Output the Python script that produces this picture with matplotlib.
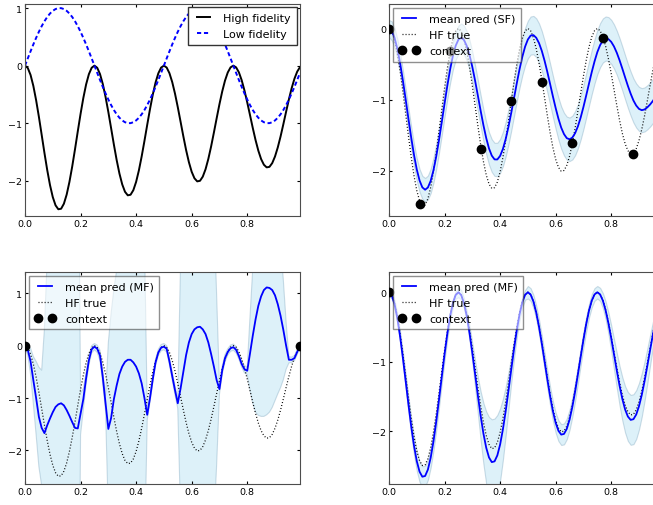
import numpy as np
import matplotlib
matplotlib.use("Agg")
import matplotlib.pyplot as plt
from matplotlib.ticker import FormatStrFormatter, MultipleLocator

# ---------------- data ----------------
# common sampling grid 0.00 ... 0.99
x_grid = np.round(np.arange(100) * 0.01, 2)

hf_true = [0, -0.041, -0.161, -0.351, -0.599, -0.888, -1.200, -1.515, -1.812, -2.073,
           -2.282, -2.425, -2.493, -2.484, -2.397, -2.238, -2.017, -1.750, -1.452, -1.141,
           -0.838, -0.561, -0.326, -0.148, -0.037, 0, -0.037, -0.146, -0.318, -0.543,
           -0.804, -1.086, -1.371, -1.639, -1.874, -2.061, -2.190, -2.251, -2.241, -2.162,
           -2.018, -1.818, -1.576, -1.307, -1.027, -0.754, -0.504, -0.293, -0.133, -0.034,
           0, -0.033, -0.131, -0.285, -0.486, -0.720, -0.972, -1.226, -1.466, -1.675,
           -1.842, -1.955, -2.009, -1.999, -1.927, -1.798, -1.619, -1.403, -1.162, -0.913,
           -0.670, -0.448, -0.260, -0.118, -0.030, 0, -0.030, -0.116, -0.252, -0.430,
           -0.636, -0.858, -1.082, -1.292, -1.476, -1.622, -1.720, -1.766, -1.757, -1.692,
           -1.577, -1.420, -1.230, -1.018, -0.799, -0.586, -0.391, -0.227, -0.103, -0.026]

lf_true = [0, 0.1253, 0.2487, 0.3681, 0.4818, 0.5878, 0.6845, 0.7705, 0.8443, 0.9048,
           0.9511, 0.9823, 0.9980, 0.9980, 0.9823, 0.9511, 0.9048, 0.8443, 0.7705, 0.6845,
           0.5878, 0.4818, 0.3681, 0.2487, 0.1253, 0, -0.1253, -0.2487, -0.3681, -0.4818,
           -0.5878, -0.6845, -0.7705, -0.8443, -0.9048, -0.9511, -0.9823, -0.9980, -0.9980, -0.9823,
           -0.9511, -0.9048, -0.8443, -0.7705, -0.6845, -0.5878, -0.4818, -0.3681, -0.2487, -0.1253,
           0, 0.1253, 0.2487, 0.3681, 0.4818, 0.5878, 0.6845, 0.7705, 0.8443, 0.9048,
           0.9511, 0.9823, 0.9980, 0.9980, 0.9823, 0.9511, 0.9048, 0.8443, 0.7705, 0.6845,
           0.5878, 0.4818, 0.3681, 0.2487, 0.1253, 0, -0.1253, -0.2487, -0.3681, -0.4818,
           -0.5878, -0.6845, -0.7705, -0.8443, -0.9048, -0.9511, -0.9823, -0.9980, -0.9980, -0.9823,
           -0.9511, -0.9048, -0.8443, -0.7705, -0.6845, -0.5878, -0.4818, -0.3681, -0.2487, -0.1253]

# single-fidelity prediction
sf_mean = [0, -0.033, -0.130, -0.285, -0.489, -0.733, -0.998, -1.272, -1.537, -1.780,
           -1.985, -2.140, -2.237, -2.270, -2.239, -2.146, -1.997, -1.802, -1.570, -1.317,
           -1.057, -0.805, -0.577, -0.385, -0.243, -0.156, -0.130, -0.162, -0.245, -0.374,
           -0.542, -0.736, -0.947, -1.160, -1.363, -1.543, -1.689, -1.790, -1.843, -1.844,
           -1.794, -1.697, -1.558, -1.385, -1.189, -0.981, -0.771, -0.573, -0.398, -0.255,
           -0.154, -0.099, -0.093, -0.130, -0.205, -0.314, -0.453, -0.611, -0.782, -0.955,
           -1.120, -1.270, -1.396, -1.487, -1.544, -1.560, -1.536, -1.474, -1.378, -1.253,
           -1.104, -0.942, -0.775, -0.612, -0.462, -0.332, -0.234, -0.168, -0.141, -0.150,
           -0.188, -0.253, -0.341, -0.447, -0.565, -0.688, -0.808, -0.918, -1.014, -1.085,
           -1.132, -1.150, -1.140, -1.110, -1.070, -1.020, -0.960, -0.900, -0.830, -0.770]
sf_std = [0.12, 0.133, 0.135, 0.138, 0.141, 0.144, 0.146, 0.149, 0.152, 0.154,
          0.157, 0.160, 0.162, 0.165, 0.168, 0.171, 0.173, 0.176, 0.179, 0.181,
          0.184, 0.187, 0.189, 0.192, 0.195, 0.198, 0.200, 0.203, 0.206, 0.208,
          0.211, 0.214, 0.216, 0.219, 0.222, 0.225, 0.227, 0.230, 0.233, 0.235,
          0.238, 0.241, 0.243, 0.246, 0.249, 0.252, 0.254, 0.257, 0.260, 0.262,
          0.265, 0.268, 0.270, 0.273, 0.276, 0.279, 0.281, 0.284, 0.287, 0.289,
          0.292, 0.295, 0.297, 0.300, 0.303, 0.306, 0.308, 0.31, 0.31, 0.31,
          0.31, 0.31, 0.31, 0.31, 0.31, 0.31, 0.31, 0.31, 0.31, 0.31,
          0.31, 0.31, 0.31, 0.31, 0.31, 0.31, 0.31, 0.31, 0.31, 0.31,
          0.31, 0.31, 0.31, 0.31, 0.31, 0.31, 0.31, 0.31, 0.31, 0.31]
sf_ctx_x = [0.0, 0.11, 0.22, 0.33, 0.44, 0.55, 0.66, 0.77, 0.88, 0.99]
sf_ctx_y = [0.0, -2.47, -0.31, -1.69, -1.02, -0.76, -1.61, -0.14, -1.77, -0.03]

# multi-fidelity prediction, two context points
mf_mean = [0.00, -0.08, -0.30, -0.66, -1.00, -1.36, -1.57, -1.67, -1.52, -1.39,
           -1.27, -1.17, -1.12, -1.10, -1.14, -1.23, -1.34, -1.46, -1.57, -1.58,
           -1.30, -1.02, -0.62, -0.28, -0.07, -0.02, -0.06, -0.19, -0.60, -1.10,
           -1.59, -1.38, -1.02, -0.76, -0.54, -0.40, -0.31, -0.27, -0.27, -0.32,
           -0.40, -0.53, -0.72, -1.00, -1.32, -1.00, -0.64, -0.32, -0.13, -0.04,
           -0.02, -0.06, -0.30, -0.58, -0.85, -1.10, -0.82, -0.50, -0.18, 0.06,
           0.22, 0.31, 0.35, 0.36, 0.31, 0.22, 0.06, -0.16, -0.40, -0.66,
           -0.83, -0.47, -0.24, -0.12, -0.05, -0.03, -0.08, -0.20, -0.35, -0.45,
           -0.48, -0.15, 0.19, 0.50, 0.76, 0.94, 1.06, 1.11, 1.10, 1.06,
           0.96, 0.79, 0.57, 0.30, 0.00, -0.27, -0.27, -0.24, -0.12, 0.00]
mf_std = [0.05, 0.10, 0.25, 0.45, 0.70, 0.95, 1.10, 2.0, 3.2, 5.0,
          7.0, 7.0, 7.0, 7.0, 7.0, 7.0, 7.0, 7.0, 7.0, 7.0,
          0.40, 0.20, 0.12, 0.09, 0.07, 0.06, 0.07, 0.10, 0.13, 0.15,
          1.65, 2.0, 2.1, 2.2, 4.0, 6.0, 6.0, 6.0, 6.0, 6.0,
          6.0, 6.0, 6.0, 3.07, 0.10, 0.08, 0.07, 0.06, 0.06, 0.06,
          0.06, 0.06, 0.07, 0.08, 0.09, 0.10, 2.4, 6.0, 6.0, 6.0,
          6.0, 6.0, 6.0, 6.0, 6.0, 6.0, 6.0, 6.0, 3.0, 1.6,
          0.10, 0.08, 0.07, 0.06, 0.06, 0.06, 0.06, 0.06, 0.06, 0.07,
          0.07, 0.70, 1.29, 1.77, 2.09, 2.29, 2.41, 2.43, 2.37, 2.24,
          2.01, 1.71, 1.37, 0.95, 0.45, 0.06, 0.05, 0.05, 0.05, 0.05]
mf_ctx_x = [0.0, 0.99]
mf_ctx_y = [0.0, 0.0]

# multi-fidelity prediction, full context
mf2_mean = [0, -0.044, -0.171, -0.374, -0.638, -0.946, -1.278, -1.613, -1.930, -2.208,
            -2.430, -2.583, -2.655, -2.645, -2.553, -2.383, -2.148, -1.864, -1.546, -1.215,
            -0.892, -0.597, -0.347, -0.158, -0.039, 0, -0.040, -0.159, -0.345, -0.590,
            -0.873, -1.179, -1.489, -1.780, -2.035, -2.238, -2.378, -2.445, -2.434, -2.348,
            -2.192, -1.974, -1.712, -1.419, -1.115, -0.819, -0.547, -0.318, -0.144, -0.037,
            0, -0.034, -0.134, -0.291, -0.496, -0.734, -0.991, -1.251, -1.495, -1.709,
            -1.879, -1.994, -2.049, -2.039, -1.966, -1.834, -1.651, -1.431, -1.185, -0.931,
            -0.683, -0.457, -0.265, -0.120, -0.031, 0, -0.031, -0.121, -0.262, -0.447,
            -0.661, -0.892, -1.125, -1.344, -1.535, -1.687, -1.789, -1.837, -1.827, -1.760,
            -1.640, -1.477, -1.279, -1.059, -0.831, -0.609, -0.407, -0.236, -0.107, -0.027]
mf2_std = [0.05, 0.052, 0.056, 0.064, 0.073, 0.085, 0.097, 0.109, 0.121, 0.132,
           0.140, 0.146, 0.150, 0.150, 0.146, 0.140, 0.132, 0.121, 0.109, 0.097,
           0.085, 0.073, 0.064, 0.056, 0.052, 0.07, 0.070, 0.072, 0.080, 0.100,
           0.136, 0.191, 0.264, 0.350, 0.439, 0.520, 0.582, 0.616, 0.616, 0.582,
           0.520, 0.439, 0.350, 0.264, 0.191, 0.136, 0.100, 0.080, 0.072, 0.070,
           0.09, 0.091, 0.094, 0.098, 0.104, 0.111, 0.118, 0.126, 0.133, 0.139,
           0.144, 0.148, 0.150, 0.150, 0.148, 0.144, 0.139, 0.133, 0.126, 0.118,
           0.111, 0.104, 0.098, 0.094, 0.091, 0.09, 0.094, 0.107, 0.127, 0.153,
           0.183, 0.217, 0.250, 0.282, 0.311, 0.334, 0.351, 0.359, 0.359, 0.351,
           0.334, 0.311, 0.282, 0.250, 0.217, 0.183, 0.153, 0.127, 0.107, 0.094]
mf2_ctx_x = [0.0, 0.99]
mf2_ctx_y = [0.0, 0.0]

x_ticks = [0.0, 0.2, 0.4, 0.6, 0.8]

# ---------------- style ----------------
plt.rcParams.update({
    "font.family": ["DejaVu Sans"],
    "font.size": 6.8,
    "legend.fontsize": 8.0,
    "xtick.direction": "in",
    "ytick.direction": "in",
    "xtick.top": True,
    "ytick.right": True,
    "xtick.major.size": 2.4,
    "ytick.major.size": 2.4,
    "xtick.major.pad": 2.0,
    "ytick.major.pad": 2.0,
    "axes.linewidth": 0.8,
    "lines.scale_dashes": False,
    "legend.numpoints": 2,
    "legend.fancybox": False,
    "legend.edgecolor": "0.2",
    "legend.borderpad": 0.5,
    "legend.labelspacing": 0.55,
    "legend.handlelength": 1.8,
    "legend.handletextpad": 0.9,
    "legend.borderaxespad": 0.4,
})

BAND_FACE = (0.53, 0.81, 0.92, 0.28)
BAND_EDGE = (0.45, 0.62, 0.72, 0.35)

fig = plt.figure(figsize=(6.53, 5.06), dpi=100)
W, H = 653.0, 506.0
ax1 = fig.add_axes([25 / W, 1 - 217 / H, 275 / W, 212 / H])
ax2 = fig.add_axes([389 / W, 1 - 217 / H, 275 / W, 212 / H])
ax3 = fig.add_axes([25 / W, 1 - 485 / H, 275 / W, 212.3 / H])
ax4 = fig.add_axes([389 / W, 1 - 485 / H, 275 / W, 212.3 / H])

hf = np.array(hf_true)

# top-left: the two fidelities
ax1.plot(x_grid, hf, color="k", lw=1.4, label="High fidelity")
ax1.plot(x_grid, lf_true, color="b", lw=1.4, ls="--", dashes=(3.0, 2.0), label="Low fidelity")
ax1.set_ylim(-2.61, 1.07)
ax1.legend(loc="upper right", framealpha=1.0, borderaxespad=0.3)


def pred_panel(ax, mean, std, ctx_x, ctx_y, label, ylim):
    mean = np.asarray(mean)
    std = np.asarray(std)
    ax.fill_between(x_grid, mean - std, mean + std, facecolor=BAND_FACE,
                    edgecolor=BAND_EDGE, linewidth=0.8, zorder=1)
    ax.plot(x_grid, mean, color="b", lw=1.3, label=label, zorder=3)
    ax.plot(x_grid, hf, color="k", lw=0.9, ls=":", dashes=(0.7, 1.5), label="HF true", zorder=2)
    ax.plot(ctx_x, ctx_y, "o", color="k", ms=6, label="context", zorder=4)
    ax.set_ylim(*ylim)
    ax.legend(loc="upper left", framealpha=0.55)


pred_panel(ax2, sf_mean, sf_std, sf_ctx_x, sf_ctx_y, "mean pred (SF)", (-2.64, 0.345))
pred_panel(ax3, mf_mean, mf_std, mf_ctx_x, mf_ctx_y, "mean pred (MF)", (-2.64, 1.41))
pred_panel(ax4, mf2_mean, mf2_std, mf2_ctx_x, mf2_ctx_y, "mean pred (MF)", (-2.76, 0.296))

for ax in (ax1, ax2, ax3, ax4):
    ax.set_xlim(0, 0.99)
    ax.set_xticks(x_ticks)
    ax.xaxis.set_major_formatter(FormatStrFormatter("%.1f"))
    ax.yaxis.set_major_locator(MultipleLocator(1))
    for s in ax.spines.values():
        s.set_color("0.3")

fig.savefig("out.png", dpi=100, facecolor="white")
